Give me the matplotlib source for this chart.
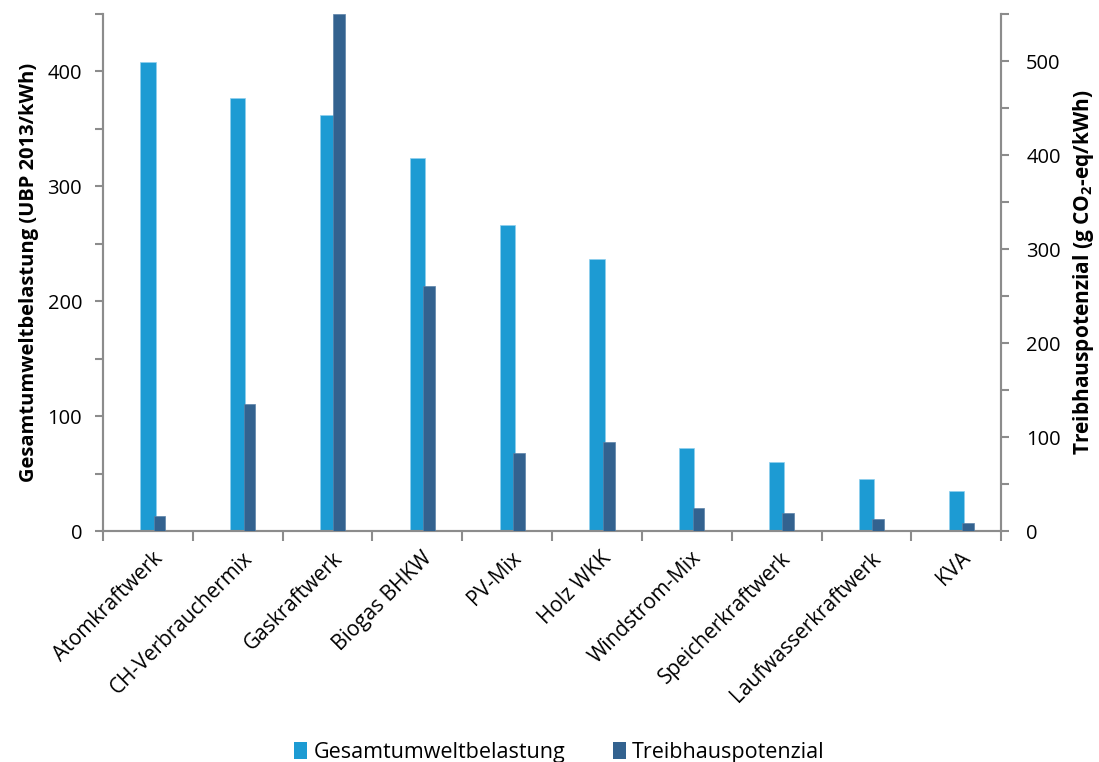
import numpy as np
import matplotlib
matplotlib.use("Agg")
import matplotlib.pyplot as plt
from matplotlib.patches import Patch
from matplotlib.ticker import MultipleLocator
from matplotlib.transforms import ScaledTranslation

plt.rcParams['font.family'] = ['Open Sans', 'DejaVu Sans']
plt.rcParams['mathtext.default'] = 'regular'

# data
categories = ["Atomkraftwerk", "CH-Verbrauchermix", "Gaskraftwerk", "Biogas BHKW",
              "PV-Mix", "Holz WKK", "Windstrom-Mix", "Speicherkraftwerk",
              "Laufwasserkraftwerk", "KVA"]
ubp = [408, 377, 362, 325, 266, 237, 72, 60, 45, 35]          # UBP 2013/kWh
co2 = [16, 135, 550, 261, 83, 95, 25, 19, 13, 9]             # g CO2-eq/kWh

light = "#1d9bd3"
dark = "#33628f"
grey = "#8c8c8c"

fig = plt.figure(figsize=(10.99, 7.62), dpi=100)
ax = fig.add_axes([0.0937, 0.303, 0.8173, 0.6786])
ax2 = ax.twinx()

x = np.arange(len(categories))
ax.bar(x, ubp, width=0.17, color=light, edgecolor="#8fd0ee", linewidth=0.5, zorder=2)
ax2.bar(x + 0.065, co2, width=0.13, align="edge", color=dark, edgecolor="#5c83a8",
        linewidth=0.5, zorder=3)

ax.set_xlim(-0.5, len(categories) - 0.5)
ax.set_ylim(0, 450)
ax2.set_ylim(0, 550)

for a in (ax, ax2):
    a.spines['top'].set_visible(False)
    for s in ('left', 'right', 'bottom'):
        a.spines[s].set_color(grey)
        a.spines[s].set_linewidth(1.5)
    a.tick_params(axis='y', which='both', color=grey, width=1.5, labelsize=14.5, length=6)
    a.yaxis.set_major_locator(MultipleLocator(100))
    a.yaxis.set_minor_locator(MultipleLocator(50))
ax.tick_params(axis='y', which='both', pad=9)
ax2.tick_params(axis='y', which='both', pad=12)

ax.set_xticks(x)
ax.set_xticklabels(categories, rotation=45, ha='right', rotation_mode='anchor', fontsize=15)
ax.set_xticks(np.arange(-0.5, len(categories) + 0.5), minor=True)
ax.tick_params(axis='x', which='major', length=0, pad=12)
ax.tick_params(axis='x', which='minor', length=7, color=grey, width=1.5)
for lbl in ax.get_xticklabels():
    lbl.set_transform(lbl.get_transform() + ScaledTranslation(0.04, 0, fig.dpi_scale_trans))

ax.set_ylabel("Gesamtumweltbelastung (UBP 2013/kWh)", fontsize=14.5, fontweight='bold', labelpad=6)
ax2.set_ylabel("Treibhauspotenzial (g CO$_2$-eq/kWh)", fontsize=15, fontweight='bold',
               labelpad=7, rotation=90)

handles = [Patch(facecolor=light, label="Gesamtumweltbelastung"),
           Patch(facecolor=dark, label="Treibhauspotenzial")]
fig.legend(handles=handles, loc='lower center', bbox_to_anchor=(0.509, -0.027), ncol=2,
           frameon=False, fontsize=15.5, handlelength=0.6, handleheight=0.8,
           handletextpad=0.3, columnspacing=2.2)

fig.savefig("out.png", dpi=100)
